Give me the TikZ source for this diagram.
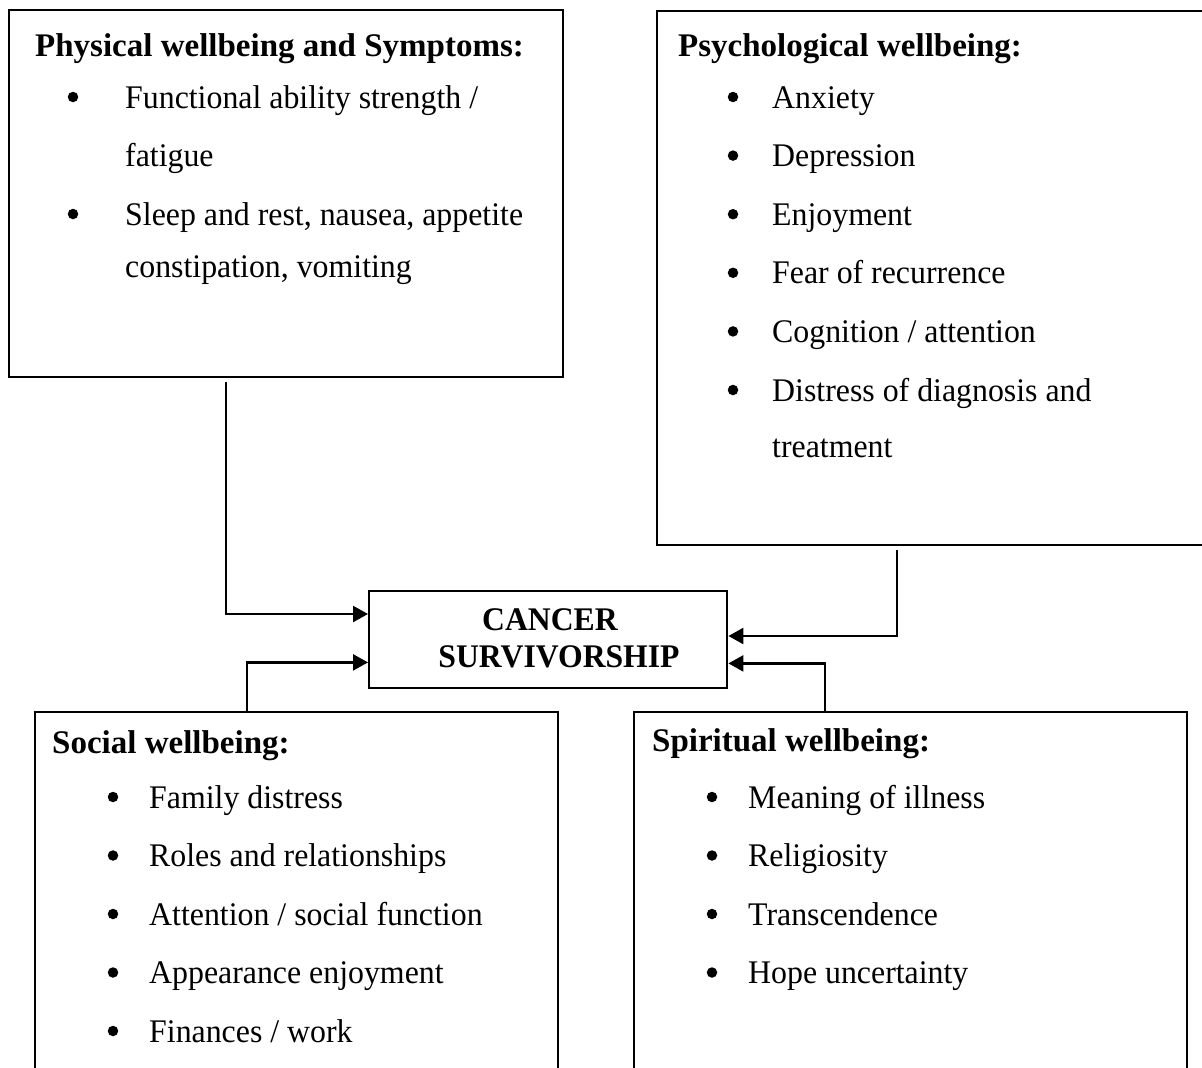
\documentclass[tikz,border=0pt]{standalone}
\usepackage{fontspec}
\setmainfont{Liberation Serif}
\newfontfamily\itemfont[FakeStretch=0.965]{Liberation Serif}
\newfontfamily\centfont[FakeStretch=0.96]{Liberation Serif}
\usetikzlibrary{arrows.meta}
\begin{document}
\begin{tikzpicture}[x=1pt,y=-1pt,
  box/.style={draw, line width=2.4pt, inner sep=0pt, anchor=north west},
  conn/.style={line width=2.4pt, -{Triangle[length=15pt,width=16pt]}},
  head/.style={anchor=base west, inner sep=0pt, font=\fontsize{33}{40}\selectfont\bfseries},
  item/.style={anchor=base west, inner sep=0pt, font=\fontsize{33}{40}\itemfont\selectfont},
  ctitle/.style={anchor=base, inner sep=0pt, font=\fontsize{33}{40}\centfont\bfseries\selectfont},
  dot/.style={circle, fill, inner sep=0pt, minimum size=10.5pt}]
\useasboundingbox (0,0) rectangle (1202,1068);
\clip (0,0) rectangle (1202,1068);
\fill[white] (0,0) rectangle (1202,1068);

% boxes
\node[box, minimum width=554pt, minimum height=367pt] (phys) at (8,9) {};
\node[box, minimum width=600pt, minimum height=534pt] (psy) at (656,10) {};
\node[box, minimum width=358pt, minimum height=97pt] (cancer) at (368,590) {};
\node[box, minimum width=523pt, minimum height=420pt] (soc) at (34,711) {};
\node[box, minimum width=553pt, minimum height=420pt] (spi) at (633,711) {};

% centre text
\node[ctitle] (c1) at (550,630) {CANCER};
\node[ctitle] (c2) at (559,667) {SURVIVORSHIP};

% physical
\node[head] (ph) at (35,56) {Physical wellbeing and Symptoms:};
\node[dot] (pd1) at (73,97) {};
\node[item] (p1) at (125,108) {Functional ability strength /};
\node[item] (p1b) at (125,166) {fatigue};
\node[dot] (pd2) at (73,214) {};
\node[item] (p2) at (125,225) {Sleep and rest, nausea, appetite};
\node[item] (p2b) at (125,277) {constipation, vomiting};

% psychological
\node[head] (sh) at (678,56) {Psychological wellbeing:};
\foreach \t [count=\i] in {Anxiety,Depression,Enjoyment,Fear of recurrence,Cognition / attention,Distress of diagnosis and}{
  \pgfmathsetmacro{\yy}{97+58.6*(\i-1)}
  \node[dot] (sd\i) at (733,\yy) {};
  \node[item] (s\i) at (772,\yy+11) {\t};
}
\node[item] (s6b) at (772,457) {treatment};

% social
\node[head] (oh) at (52,753) {Social wellbeing:};
\foreach \t [count=\i] in {Family distress,Roles and relationships,Attention / social function,Appearance enjoyment,Finances / work}{
  \pgfmathsetmacro{\yy}{797+58.5*(\i-1)}
  \node[dot] (od\i) at (113,\yy) {};
  \node[item] (o\i) at (149,\yy+11) {\t};
}

% spiritual
\node[head] (rh) at (652,751) {Spiritual wellbeing:};
\foreach \t [count=\i] in {Meaning of illness,Religiosity,Transcendence,Hope uncertainty}{
  \pgfmathsetmacro{\yy}{797+58.5*(\i-1)}
  \node[dot] (rd\i) at (712,\yy) {};
  \node[item] (r\i) at (748,\yy+11) {\t};
}

% connectors
\draw[conn] ([xshift=218pt,yshift=-4pt]phys.south west) |- ([yshift=-24pt]cancer.north west);
\draw[conn] ([xshift=213pt]soc.north west) |- ([yshift=27pt]cancer.south west);
\draw[conn] ([xshift=241pt,yshift=-4pt]psy.south west) |- ([yshift=-46pt]cancer.north east);
\draw[conn] ([xshift=192pt]spi.north west) |- ([yshift=26pt]cancer.south east);
\end{tikzpicture}
\end{document}
